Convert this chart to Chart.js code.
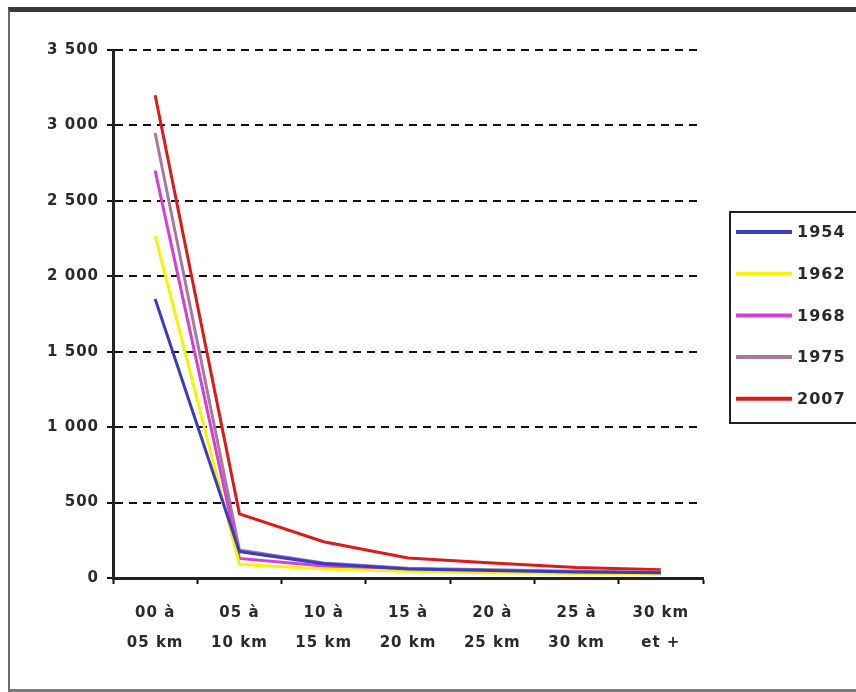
<!DOCTYPE html>
<html>
<head>
<meta charset="utf-8">
<script src="https://cdn.jsdelivr.net/npm/chart.js@4/dist/chart.umd.min.js"></script>
<style>
  html, body { margin: 0; padding: 0; background: #fff; }
  #wrap { position: relative; width: 856px; height: 692px; overflow: hidden; }
  #frame { position: absolute; left: 8px; top: 7px; width: 900px; height: 677px;
           border-left: 2px solid #6a6a6a; border-top: 5px solid #3a3a3a; border-bottom: 3px solid #7a7a7a; }
  canvas { position: absolute; left: 0; top: 0; }
</style>
</head>
<body>
<div id="wrap">
  <div id="frame"></div>
  <canvas id="c" width="856" height="692"></canvas>
</div>
<script>
const categories = [["00 à","05 km"],["05 à","10 km"],["10 à","15 km"],["15 à","20 km"],["20 à","25 km"],["25 à","30 km"],["30 km","et +"]];
const seriesNames = ["1954", "1962", "1968", "1975", "2007"];
const v1954 = [1850, 175, 95, 60, 50, 40, 35];
const v1962 = [2270, 90, 60, 45, 35, 30, 25];
const v1968 = [2700, 130, 80, 55, 45, 35, 30];
const v1975 = [2950, 185, 100, 65, 55, 45, 40];
const v2007 = [3200, 425, 240, 133, 100, 70, 55];
const yTicks = [0, 500, 1000, 1500, 2000, 2500, 3000, 3500];

const colors = ["#3b3bc4", "#f5f500", "#d63fd6", "#a9789f", "#dd1a1a"];
const values = [v1954, v1962, v1968, v1975, v2007];

const FONT = "'DejaVu Sans'";
const LS = '1px';
const spacingPlugin = {
  id: 'spacing',
  beforeUpdate(chart) { chart.ctx.letterSpacing = LS; },
  beforeDraw(chart) { chart.ctx.letterSpacing = LS; }
};

const legendPlugin = {
  id: 'boxLegend',
  afterDraw(chart) {
    const ctx = chart.ctx;
    ctx.save();
    ctx.setLineDash([]);
    ctx.letterSpacing = LS;
    ctx.strokeStyle = '#222';
    ctx.lineWidth = 2;
    ctx.strokeRect(730, 212, 160, 211);
    chart.data.datasets.forEach((ds, i) => {
      const y = 232 + i * 41.7;
      ctx.strokeStyle = ds.borderColor;
      ctx.lineWidth = 4;
      ctx.beginPath();
      ctx.moveTo(736, y);
      ctx.lineTo(792, y);
      ctx.stroke();
      ctx.fillStyle = '#2a2a2a';
      ctx.font = "bold 16px " + FONT;
      ctx.textBaseline = 'middle';
      ctx.textAlign = 'left';
      ctx.fillText(ds.label, 797, y + 1);
    });
    ctx.restore();
  }
};

new Chart(document.getElementById('c'), {
  type: 'line',
  data: {
    labels: categories,
    datasets: seriesNames.map((n, i) => ({
      label: n,
      data: values[i],
      borderColor: colors[i],
      backgroundColor: colors[i],
      borderWidth: 3,
      pointRadius: 0,
      tension: 0,
      fill: false
    }))
  },
  options: {
    responsive: false,
    animation: false,
    layout: { padding: { top: 50, right: 153, left: 0, bottom: 0 } },
    plugins: { legend: { display: false }, tooltip: { enabled: false } },
    scales: {
      x: {
        offset: true,
        grid: { drawOnChartArea: false, drawTicks: true, tickLength: 6, tickColor: '#111', tickWidth: 2, offset: true },
        border: { display: true, color: '#222', width: 3 },
        ticks: { color: '#2a2a2a', font: { family: FONT, size: 15, weight: 'bold', lineHeight: 2 }, padding: 14, maxRotation: 0, autoSkip: false },
        afterFit(s) { s.height = 114; }
      },
      y: {
        min: 0, max: 3500,
        afterBuildTicks(s) { s.ticks = yTicks.map(v => ({ value: v })); },
        grid: { color: '#111', lineWidth: 2, drawTicks: true, tickLength: 6, tickColor: '#111', tickWidth: 2, tickBorderDash: [] },
        border: { display: true, color: '#222', width: 3, dash: [8, 6] },
        ticks: {
          color: '#2a2a2a', font: { family: FONT, size: 15, weight: 'bold' }, padding: 8,
          callback: (v) => String(v).replace(/\B(?=(\d{3})+(?!\d))/g, ' ')
        },
        afterFit(s) { s.width = 113; }
      }
    }
  },
  plugins: [spacingPlugin, legendPlugin]
});
</script>
</body>
</html>
